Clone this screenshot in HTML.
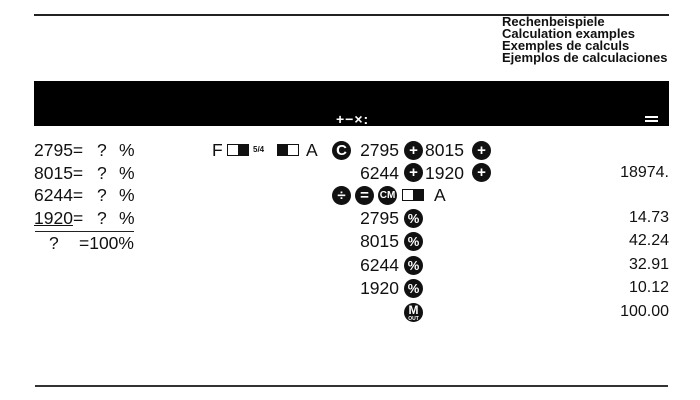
<!DOCTYPE html>
<html><head><meta charset="utf-8"><style>
body{margin:0;background:#fff;}
#p{position:relative;width:700px;height:400px;overflow:hidden;background:#fff;font-family:"Liberation Sans",sans-serif;color:#111;}
.a{position:absolute;white-space:nowrap;}
.t{position:absolute;font-size:17.5px;line-height:18px;white-space:nowrap;}
.m{position:absolute;font-size:17.5px;line-height:18px;white-space:nowrap;text-align:right;right:301px;}
.r{position:absolute;font-size:16px;line-height:18px;white-space:nowrap;text-align:right;}
.c{position:absolute;width:19px;height:19px;border-radius:50%;background:#111;color:#fff;font-weight:bold;text-align:center;line-height:19px;font-size:15px;}
.bx{position:absolute;width:22px;height:12px;border:1px solid #111;box-sizing:border-box;}
</style></head><body><div id="p">
<div class="a" style="left:34px;top:14px;width:635px;height:2px;background:#222"></div>
<div class="a" style="left:502px;top:16px;font-weight:bold;font-size:13px;line-height:12px;">Rechenbeispiele<br>Calculation examples<br>Exemples de calculs<br>Ejemplos de calculaciones</div>
<div class="a" style="left:34px;top:81px;width:635px;height:45px;background:#000"></div>
<div class="a" style="left:336px;top:111px;color:#fff;font-size:14px;font-weight:bold;letter-spacing:1px;">+−×:</div>
<div class="a" style="left:645px;top:116px;width:13px;height:2px;background:#fff"></div>
<div class="a" style="left:645px;top:120px;width:13px;height:2px;background:#fff"></div>

<div class="t" style="left:34px;top:141px">2795=</div><div class="t" style="left:97px;top:141px">?</div><div class="t" style="left:119px;top:141px">%</div>
<div class="t" style="left:34px;top:164px">8015=</div><div class="t" style="left:97px;top:164px">?</div><div class="t" style="left:119px;top:164px">%</div>
<div class="t" style="left:34px;top:186px">6244=</div><div class="t" style="left:97px;top:186px">?</div><div class="t" style="left:119px;top:186px">%</div>
<div class="t" style="left:34px;top:209px"><u>1920</u>=</div><div class="t" style="left:97px;top:209px">?</div><div class="t" style="left:119px;top:209px">%</div>
<div class="a" style="left:35px;top:231px;width:99px;height:1px;background:#222"></div>
<div class="t" style="left:49px;top:234px">?</div><div class="t" style="left:79px;top:234px">=100%</div>

<div class="t" style="left:212px;top:141px">F</div>
<div class="bx" style="left:227px;top:144px"></div><div class="a" style="left:238px;top:144px;width:11px;height:12px;background:#111"></div>
<div class="a" style="left:253px;top:145px;font-size:8px;font-weight:bold">5/4</div>
<div class="bx" style="left:277px;top:144px"></div><div class="a" style="left:277px;top:144px;width:11px;height:12px;background:#111"></div>
<div class="t" style="left:306px;top:141px">A</div>

<div class="c" style="left:332px;top:141px">C</div>
<div class="m" style="top:141px">2795</div>
<div class="c" style="left:404px;top:141px">+</div>
<div class="t" style="left:425px;top:141px">8015</div>
<div class="c" style="left:472px;top:141px">+</div>

<div class="m" style="top:164px">6244</div>
<div class="c" style="left:404px;top:163px">+</div>
<div class="t" style="left:425px;top:164px">1920</div>
<div class="c" style="left:472px;top:163px">+</div>

<div class="c" style="left:332px;top:186px">÷</div>
<div class="c" style="left:355px;top:186px">=</div>
<div class="c" style="left:378px;top:186px;font-size:10px">CM</div>
<div class="bx" style="left:402px;top:189px"></div><div class="a" style="left:413px;top:189px;width:11px;height:12px;background:#111"></div>
<div class="t" style="left:434px;top:186px">A</div>

<div class="m" style="top:209px">2795</div><div class="c" style="left:404px;top:209px;font-size:13px">%</div>
<div class="m" style="top:232px">8015</div><div class="c" style="left:404px;top:232px;font-size:13px">%</div>
<div class="m" style="top:256px">6244</div><div class="c" style="left:404px;top:256px;font-size:13px">%</div>
<div class="m" style="top:279px">1920</div><div class="c" style="left:404px;top:279px;font-size:13px">%</div>
<div class="c" style="left:404px;top:303px;font-size:12px;line-height:14px">M<div style="font-size:5px;line-height:4px">OUT</div></div>

<div class="r" style="right:31px;top:164px">18974.</div>
<div class="r" style="right:31px;top:209px">14.73</div>
<div class="r" style="right:31px;top:232px">42.24</div>
<div class="r" style="right:31px;top:256px">32.91</div>
<div class="r" style="right:31px;top:279px">10.12</div>
<div class="r" style="right:31px;top:303px">100.00</div>

<div class="a" style="left:35px;top:385px;width:633px;height:2px;background:#333"></div>
</div></body></html>
